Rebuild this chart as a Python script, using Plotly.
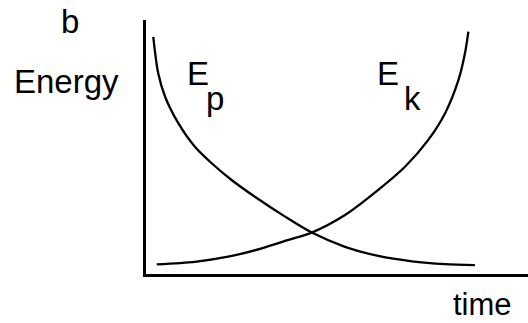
import plotly.graph_objects as go

# Data (time and energy in arbitrary units, 0..10)
ep_time = [0.19, 0.32, 0.50, 0.85, 1.28, 1.72, 2.24, 2.85, 3.64, 4.34, 5.21, 6.08, 6.96, 7.83, 8.61]
ep_energy = [9.34, 7.90, 6.98, 5.93, 5.01, 4.36, 3.70, 3.04, 2.26, 1.63, 1.07, 0.71, 0.50, 0.39, 0.35]

ek_time = [0.28, 1.28, 2.15, 3.03, 3.73, 4.34, 5.21, 6.08, 6.78, 7.39, 7.83, 8.18, 8.35, 8.44]
ek_energy = [0.38, 0.48, 0.68, 1.01, 1.34, 1.63, 2.32, 3.31, 4.22, 5.28, 6.33, 7.64, 8.69, 9.54]

W, H = 528, 323
ML, MR, MT, MB = 146, 0, 20, 49
PW, PH = W - ML - MR, H - MT - MB
FONT = "Liberation Sans, Arial, sans-serif"

def px(x):
    return (x - ML) / PW

def py(y):
    return (H - MB - y) / PH

fig = go.Figure()
for t, e, name in [(ep_time, ep_energy, "Ep"), (ek_time, ek_energy, "Ek")]:
    fig.add_trace(go.Scatter(x=t, y=e, mode="lines", name=name,
                             line=dict(color="black", width=2.3, shape="spline", smoothing=0.8),
                             hoverinfo="skip"))

labels = [
    ("b", 70, 22, 33),
    ("Energy", 66, 81, 33),
    ("time", 482, 304, 31),
    ("E", 198, 74, 33),
    ("p", 215, 98, 33),
    ("E", 388, 74, 33),
    ("k", 412.5, 98, 33),
]
for text, x, y, size in labels:
    fig.add_annotation(text=text, x=px(x), y=py(y), xref="paper", yref="paper",
                       xanchor="center", yanchor="middle", showarrow=False,
                       borderpad=0,
                       font=dict(family=FONT, size=size, color="black"))

fig.update_layout(
    width=W, height=H,
    margin=dict(l=ML, r=MR, t=MT, b=MB, pad=0),
    paper_bgcolor="white", plot_bgcolor="white",
    showlegend=False,
    xaxis=dict(range=[0, 10], showline=True, linecolor="black", linewidth=3,
               showgrid=False, zeroline=False, showticklabels=False, ticks=""),
    yaxis=dict(range=[0, 10], showline=True, linecolor="black", linewidth=3,
               showgrid=False, zeroline=False, showticklabels=False, ticks=""),
)

fig.write_html("out.html", config={"displayModeBar": False},
               post_script="document.body.style.margin='0';document.body.style.overflow='hidden';")
